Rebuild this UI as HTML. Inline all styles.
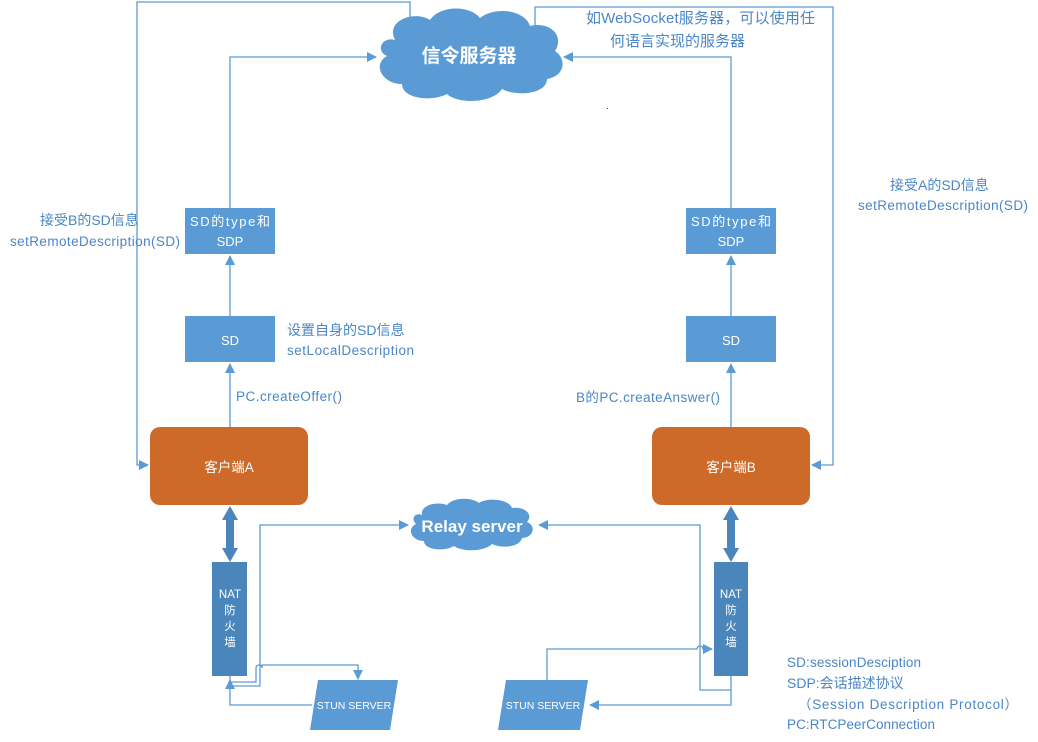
<!DOCTYPE html><html><head><meta charset="utf-8"><style>body{margin:0;background:#fff}svg{display:block;font-family:"Liberation Sans","Noto Sans CJK SC",sans-serif}</style></head><body>
<svg width="1038" height="742" viewBox="0 0 1038 742">
<defs><marker id="a" markerWidth="10" markerHeight="10" refX="9" refY="5" orient="auto" markerUnits="userSpaceOnUse"><path d="M0,0L10,5L0,10z" fill="#5b9bd5"/></marker></defs>
<g fill="none" stroke="#5b9bd5" stroke-width="1.3">
<path d="M410,18V2H137V465H148" marker-end="url(#a)"/>
<path d="M535,28V7H833V465H812" marker-end="url(#a)"/>
<path d="M230,208V57H376" marker-end="url(#a)"/>
<path d="M731,208V57H564" marker-end="url(#a)"/>
<path d="M230,316V256" marker-end="url(#a)"/>
<path d="M731,316V256" marker-end="url(#a)"/>
<path d="M230,427V364" marker-end="url(#a)"/>
<path d="M731,427V364" marker-end="url(#a)"/>
<path d="M230,676V686H260V525H408" marker-end="url(#a)"/>
<path d="M230,682H256V668a3,3 0 0 1 6,0V665H358V679" marker-end="url(#a)"/>
<path d="M312,705H230V680" marker-end="url(#a)"/>
<path d="M731,690H700V525H539" marker-end="url(#a)"/>
<path d="M731,676V705H590" marker-end="url(#a)"/>
<path d="M547,680V649H697a3,3 0 0 1 6,0H712" marker-end="url(#a)"/>
</g>
<g fill="#4a86bc"><path d="M230,506L238,520H234V548H238L230,562L222,548H226V520H222Z"/><path d="M731,506L739,520H735V548H739L731,562L723,548H727V520H723Z"/>
<rect x="212" y="562" width="35" height="114"/><rect x="714" y="562" width="34" height="114"/></g>
<g fill="#5b9bd5">
<path d="M395,40c-10,-20 20,-30 35,-20c10,-15 40,-15 50,-2c15,-12 45,-8 50,8c20,-5 35,10 25,25c12,8 10,25 -8,28c0,15 -30,18 -45,10c-10,15 -45,15 -55,5c-15,8 -45,5 -45,-10c-20,0 -30,-20 -15,-28c-12,-5 -5,-20 8,-16z"/>
<path d="M422,515c-2,-10 15,-14 25,-10c6,-8 25,-8 32,-2c8,-6 30,-4 33,5c12,-2 22,6 15,14c10,4 6,16 -5,16c-2,9 -20,11 -30,6c-8,8 -30,8 -38,2c-10,6 -30,4 -30,-5c-12,0 -18,-12 -8,-17c-6,-6 0,-12 6,-9z"/>
<rect x="185" y="208" width="90" height="46"/><rect x="686" y="208" width="90" height="46"/>
<rect x="185" y="316" width="90" height="46"/><rect x="686" y="316" width="90" height="46"/>
<path d="M318,680H398L390,730H310Z"/><path d="M506,680H588L580,730H498Z"/>
</g>
<rect x="150" y="427" width="158" height="78" rx="10" fill="#cd6a29"/>
<rect x="652" y="427" width="158" height="78" rx="10" fill="#cd6a29"/>
<g fill="#fff" text-anchor="middle">
<text x="469" y="62" font-size="19" font-weight="bold">信令服务器</text>
<text x="472" y="532" font-size="17" font-weight="bold">Relay server</text>
<text x="230" y="226" font-size="13" textLength="80">SD的type和</text><text x="230" y="246" font-size="13">SDP</text>
<text x="731" y="226" font-size="13" textLength="80">SD的type和</text><text x="731" y="246" font-size="13">SDP</text>
<text x="230" y="345" font-size="13">SD</text><text x="731" y="345" font-size="13">SD</text>
<text x="229" y="472" font-size="13.5">客户端A</text><text x="731" y="472" font-size="13.5">客户端B</text>
<g font-size="11.5"><text x="230" y="598">NAT</text><text x="230" y="614">防</text><text x="230" y="630">火</text><text x="230" y="646">墙</text>
<text x="731" y="598">NAT</text><text x="731" y="614">防</text><text x="731" y="630">火</text><text x="731" y="646">墙</text></g>
<text x="354" y="709" font-size="10.5">STUN SERVER</text><text x="543" y="709" font-size="10.5">STUN SERVER</text>
</g>
<g fill="#4a86c8" font-size="13.5">
<text x="586" y="23" font-size="15" textLength="229">如WebSocket服务器，可以使用任</text><text x="610" y="46" font-size="15">何语言实现的服务器</text>
<text x="40" y="225" font-size="14">接受B的SD信息</text><text x="10" y="246" textLength="170">setRemoteDescription(SD)</text>
<text x="890" y="190" font-size="14">接受A的SD信息</text><text x="858" y="210" textLength="170">setRemoteDescription(SD)</text>
<text x="287" y="335" font-size="14">设置自身的SD信息</text><text x="287" y="355" textLength="127">setLocalDescription</text>
<text x="236" y="401" textLength="106">PC.createOffer()</text><text x="576" y="402" textLength="144">B的PC.createAnswer()</text>
<text x="787" y="667" textLength="134">SD:sessionDesciption</text><text x="787" y="688" font-size="14">SDP:会话描述协议</text>
<text x="798" y="709" textLength="220">（Session Description Protocol）</text><text x="787" y="729" textLength="148">PC:RTCPeerConnection</text>
</g>
<rect x="607" y="108" width="1" height="1" fill="#444"/>
</svg></body></html>
